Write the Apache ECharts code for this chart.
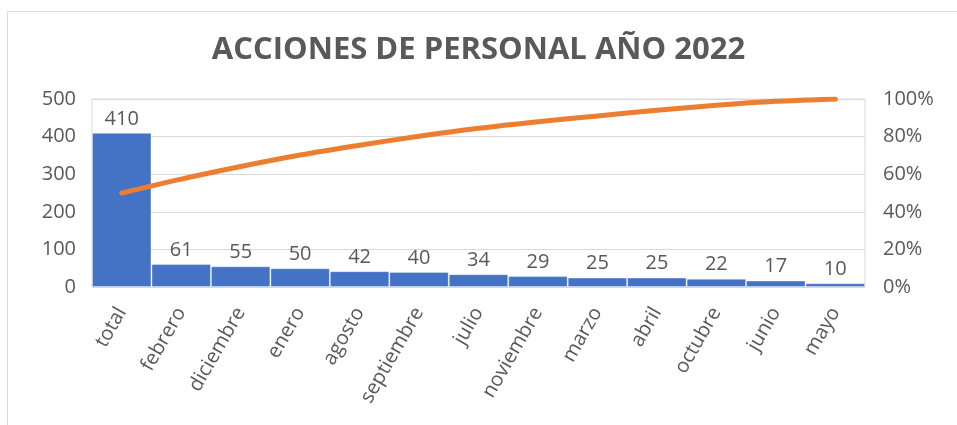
<!DOCTYPE html>
<html>
<head>
<meta charset="utf-8">
<title>Acciones de personal 2022</title>
<script src="https://cdn.jsdelivr.net/npm/echarts@6/dist/echarts.min.js"></script>
<style>
  html, body { margin: 0; padding: 0; background: #fff; }
  #chart { width: 957px; height: 425px; }
</style>
</head>
<body>
<div id="chart"></div>
<script>
// datos
const meses = ['total', 'febrero', 'diciembre', 'enero', 'agosto', 'septiembre', 'julio', 'noviembre', 'marzo', 'abril', 'octubre', 'junio', 'mayo'];
const acciones = [410, 61, 55, 50, 42, 40, 34, 29, 25, 25, 22, 17, 10];
// porcentaje acumulado (línea naranja)
const acumulado = [50.0, 57.4, 64.1, 70.2, 75.4, 80.2, 84.4, 87.9, 91.0, 94.0, 96.7, 98.8, 100];

const gris = '#595959';
const fuente = '"Open Sans", "Noto Sans", sans-serif';

const chart = echarts.init(document.getElementById('chart'));

const option = {
  animation: false,
  textStyle: { fontFamily: fuente },
  title: {
    text: 'ACCIONES DE PERSONAL AÑO 2022',
    left: 'center',
    top: 30,
    textStyle: { color: gris, fontSize: 31, fontWeight: 'bold', fontFamily: fuente }
  },
  grid: {
    left: 92, right: 92, top: 99, bottom: 138,
    show: true, borderColor: '#d9d9d9', borderWidth: 1
  },
  // marco de la imagen
  graphic: [
    { type: 'line', shape: { x1: 7.5, y1: 11.5, x2: 957, y2: 11.5 }, style: { stroke: '#d9d9d9', lineWidth: 1 } },
    { type: 'line', shape: { x1: 7.5, y1: 11.5, x2: 7.5, y2: 425 }, style: { stroke: '#d9d9d9', lineWidth: 1 } }
  ],
  xAxis: {
    type: 'category',
    data: meses,
    axisLine: { show: false },
    axisTick: { show: false },
    axisLabel: { rotate: 60, color: gris, fontSize: 20, margin: 22 }
  },
  yAxis: [
    {
      type: 'value', min: 0, max: 500, interval: 100,
      axisLabel: { color: gris, fontSize: 20, margin: 16 },
      splitLine: { lineStyle: { color: '#d9d9d9' } }
    },
    {
      type: 'value', min: 0, max: 100, interval: 20, position: 'right',
      axisLabel: { color: gris, fontSize: 20, margin: 18, formatter: '{value}%' },
      splitLine: { show: false }
    }
  ],
  series: [
    {
      type: 'bar',
      data: acciones,
      barCategoryGap: 0,
      itemStyle: { color: '#4472C4', borderColor: 'rgba(255,255,255,0.35)', borderWidth: 1 },
      label: { show: true, position: 'top', distance: 4, color: gris, fontSize: 20 }
    },
    {
      type: 'line',
      yAxisIndex: 1,
      data: acumulado,
      symbol: 'none',
      smooth: 0.3,
      lineStyle: { color: '#ED7D31', width: 5, cap: 'round' }
    }
  ]
};

chart.setOption(option);
</script>
</body>
</html>
